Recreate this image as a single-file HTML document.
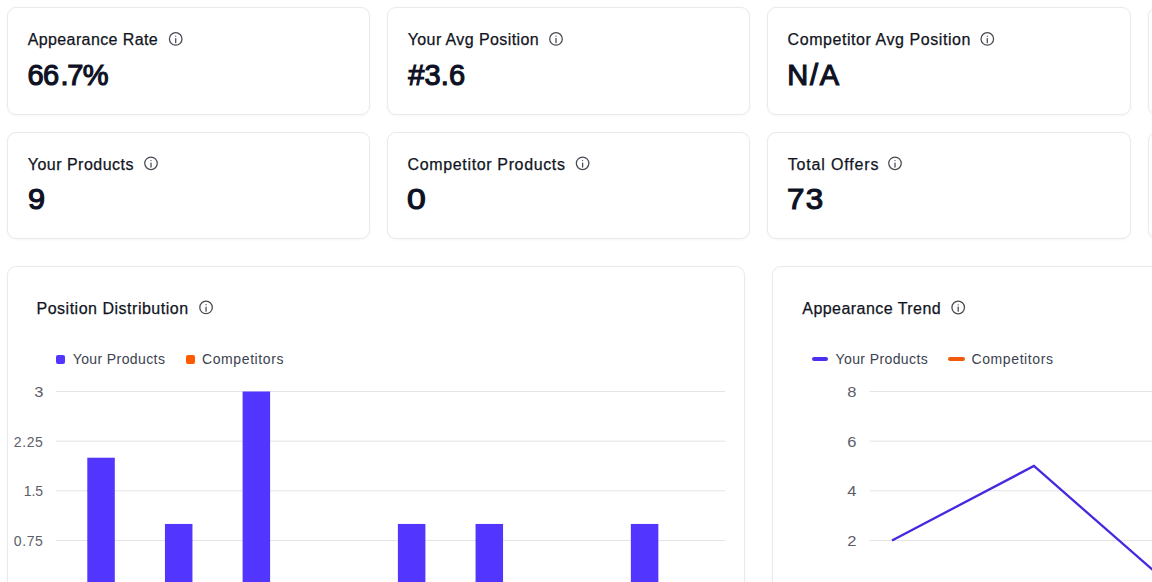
<!DOCTYPE html>
<html lang="en">
<head>
<meta charset="utf-8">
<title>Appearance Dashboard</title>
<style>
  html, body { margin: 0; padding: 0; }
  body {
    opacity: 0.999;
    width: 1152px; height: 582px; overflow: hidden; position: relative;
    background: #ffffff;
    font-family: "Liberation Sans", Arial, sans-serif;
    color: #0f1326;
  }
  .card {
    position: absolute; box-sizing: border-box;
    background: #ffffff;
    border: 1px solid #eaeaea;
    border-radius: 9px;
    box-shadow: 0 1px 3px rgba(0,0,0,0.04);
  }
  .t {
    position: absolute; white-space: nowrap;
    font-size: 16px; line-height: 16px; color: #111422;
    -webkit-text-stroke: 0.25px #111422;
  }
  .v {
    position: absolute; white-space: nowrap;
    font-size: 29px; line-height: 29px; font-weight: 400; color: #0e1124;
    -webkit-text-stroke: 1.15px #0e1124; letter-spacing: -0.75px;
  }
  .lg {
    position: absolute; white-space: nowrap;
    font-size: 14px; line-height: 14px; color: #3b4250;
  }
  .sq { position: absolute; width: 9px; height: 9px; border-radius: 2px; }
  .ln { position: absolute; width: 16.5px; height: 3.4px; border-radius: 2px; }
  .yl {
    position: absolute; white-space: nowrap; text-align: right;
    font-size: 14px; line-height: 14px; color: #5b5e67; width: 40px;
  }
</style>
</head>
<body>

<!-- Row 1 metric cards -->
<div class="card" style="left:7px;top:7px;width:363px;height:108px;"></div>
<div class="card" style="left:387px;top:7px;width:363px;height:108px;"></div>
<div class="card" style="left:767px;top:7px;width:364px;height:108px;"></div>
<div class="card" style="left:1148px;top:7px;width:364px;height:108px;"></div>

<!-- Row 2 metric cards -->
<div class="card" style="left:7px;top:132px;width:363px;height:107px;"></div>
<div class="card" style="left:387px;top:132px;width:363px;height:107px;"></div>
<div class="card" style="left:767px;top:132px;width:364px;height:107px;"></div>
<div class="card" style="left:1148px;top:132px;width:364px;height:107px;"></div>

<!-- Chart cards -->
<div class="card" style="left:7px;top:266px;width:738px;height:400px;"></div>
<div class="card" style="left:772px;top:266px;width:739px;height:400px;"></div>

<!-- Row 1 texts -->
<div class="t" style="left:27.7px;top:32.3px;letter-spacing:0.39px;">Appearance Rate</div>
<div class="v" style="left:27.6px;top:61px;">66<span style="margin-left:2.2px;margin-right:-0.5px;">.</span>7%</div>

<div class="t" style="left:407.7px;top:32.3px;letter-spacing:0.4px;">Your Avg Position</div>
<div class="v" style="left:408.2px;top:61px;letter-spacing:0.15px;">#3.6</div>

<div class="t" style="left:787.6px;top:32.3px;letter-spacing:0.56px;">Competitor Avg Position</div>
<div class="v" style="left:787.3px;top:61px;letter-spacing:1.7px;">N/A</div>

<!-- Row 2 texts -->
<div class="t" style="left:27.8px;top:156.9px;letter-spacing:0.48px;">Your Products</div>
<div class="v" style="left:27.6px;top:185.2px;transform:scaleX(1.06);transform-origin:0 0;">9</div>

<div class="t" style="left:407.6px;top:156.9px;letter-spacing:0.64px;">Competitor Products</div>
<div class="v" style="left:407.2px;top:185.2px;transform:scaleX(1.16);transform-origin:0 0;">0</div>

<div class="t" style="left:787.7px;top:156.9px;letter-spacing:0.84px;">Total Offers</div>
<div class="v" style="left:787.3px;top:185.2px;letter-spacing:1.2px;transform:scaleX(1.08);transform-origin:0 0;">73</div>

<!-- Info icons -->

<!-- Chart 1: Position Distribution -->
<div class="t" style="left:36.5px;top:300.5px;letter-spacing:0.51px;">Position Distribution</div>

<div class="sq" style="left:56px;top:354.5px;background:#5236ff;"></div>
<div class="lg" style="left:72.7px;top:352.1px;letter-spacing:0.4px;">Your Products</div>
<div class="sq" style="left:185.5px;top:354.5px;background:#ff5a00;"></div>
<div class="lg" style="left:202px;top:352.1px;letter-spacing:0.6px;">Competitors</div>


<div class="yl" style="left:3.5px;top:385.2px;letter-spacing:0.6px;transform:scaleX(1.18);transform-origin:39.4px 50%;">3</div>
<div class="yl" style="left:3.5px;top:434.5px;letter-spacing:0.6px;">2.25</div>
<div class="yl" style="left:3.1px;top:483.6px;letter-spacing:0px;">1.5</div>
<div class="yl" style="left:3.5px;top:533.7px;letter-spacing:0.6px;">0.75</div>


<!-- Chart 2: Appearance Trend -->
<div class="t" style="left:802.3px;top:300.5px;letter-spacing:0.45px;">Appearance Trend</div>

<div class="ln" style="left:811.5px;top:357.3px;background:#4a30f0;"></div>
<div class="lg" style="left:835.5px;top:352.1px;letter-spacing:0.4px;">Your Products</div>
<div class="ln" style="left:948px;top:357.3px;background:#f25a0a;"></div>
<div class="lg" style="left:971.5px;top:352.1px;letter-spacing:0.6px;">Competitors</div>


<div class="yl" style="left:816.5px;top:385.2px;letter-spacing:0.6px;transform:scaleX(1.18);transform-origin:39.4px 50%;">8</div>
<div class="yl" style="left:816.5px;top:434.5px;letter-spacing:0.6px;transform:scaleX(1.18);transform-origin:39.4px 50%;">6</div>
<div class="yl" style="left:816.5px;top:483.6px;letter-spacing:0.6px;transform:scaleX(1.18);transform-origin:39.4px 50%;">4</div>
<div class="yl" style="left:816.5px;top:533.7px;letter-spacing:0.6px;transform:scaleX(1.18);transform-origin:39.4px 50%;">2</div>


<!-- chart graphics -->
<svg style="position:absolute;left:0;top:0;" width="1152" height="582" viewBox="0 0 1152 582">
  <g stroke="#e4e4e7" stroke-width="1">
    <line x1="56" y1="391.5" x2="725" y2="391.5"/>
    <line x1="56" y1="441.17" x2="725" y2="441.17"/>
    <line x1="56" y1="490.83" x2="725" y2="490.83"/>
    <line x1="56" y1="540.5" x2="725" y2="540.5"/>
    <line x1="869.6" y1="391.5" x2="1400" y2="391.5"/>
    <line x1="869.6" y1="441.17" x2="1400" y2="441.17"/>
    <line x1="869.6" y1="490.83" x2="1400" y2="490.83"/>
    <line x1="869.6" y1="540.5" x2="1400" y2="540.5"/>
  </g>
  <g fill="#5236ff">
    <rect x="87.3" y="457.72" width="27.5" height="132.45"/>
    <rect x="164.95" y="523.95" width="27.5" height="66.22"/>
    <rect x="242.6" y="391.50" width="27.5" height="198.67"/>
    <rect x="397.9" y="523.95" width="27.5" height="66.22"/>
    <rect x="475.55" y="523.95" width="27.5" height="66.22"/>
    <rect x="630.85" y="523.95" width="27.5" height="66.22"/>
  </g>
  <polyline points="892.00,540.50 1033.90,466.00 1175.80,590.17" fill="none" stroke="#4428e2" stroke-width="2.3" stroke-linejoin="miter"/>
</svg>
<!-- info icons -->
<svg style="position:absolute;left:0;top:0;" width="1152" height="582" viewBox="0 0 1152 582">
  <g fill="none" stroke="#474a53" stroke-width="1.9" stroke-linecap="round" stroke-linejoin="round">
    <g transform="translate(167.70 30.95) scale(0.66667)"><circle cx="12" cy="12" r="9.4"/><path d="M12 11.5v6.1"/><path d="M12 7.9h.01"/></g>
    <g transform="translate(548.00 30.95) scale(0.66667)"><circle cx="12" cy="12" r="9.4"/><path d="M12 11.5v6.1"/><path d="M12 7.9h.01"/></g>
    <g transform="translate(979.30 30.95) scale(0.66667)"><circle cx="12" cy="12" r="9.4"/><path d="M12 11.5v6.1"/><path d="M12 7.9h.01"/></g>
    <g transform="translate(143.00 155.35) scale(0.66667)"><circle cx="12" cy="12" r="9.4"/><path d="M12 11.5v6.1"/><path d="M12 7.9h.01"/></g>
    <g transform="translate(574.60 155.35) scale(0.66667)"><circle cx="12" cy="12" r="9.4"/><path d="M12 11.5v6.1"/><path d="M12 7.9h.01"/></g>
    <g transform="translate(887.00 155.35) scale(0.66667)"><circle cx="12" cy="12" r="9.4"/><path d="M12 11.5v6.1"/><path d="M12 7.9h.01"/></g>
    <g transform="translate(198.05 299.45) scale(0.66667)"><circle cx="12" cy="12" r="9.4"/><path d="M12 11.5v6.1"/><path d="M12 7.9h.01"/></g>
    <g transform="translate(950.20 299.50) scale(0.66667)"><circle cx="12" cy="12" r="9.4"/><path d="M12 11.5v6.1"/><path d="M12 7.9h.01"/></g>
  </g>
</svg>
</body>
</html>
